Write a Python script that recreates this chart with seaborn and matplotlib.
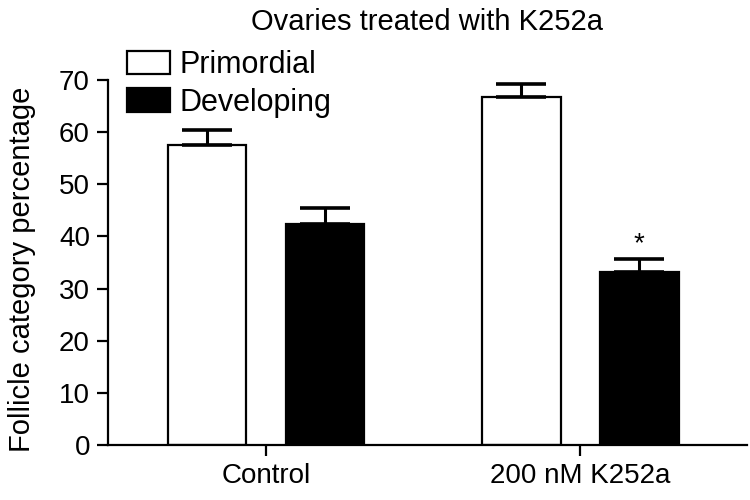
import pandas as pd
import numpy as np
import matplotlib
matplotlib.use("Agg")
import matplotlib.pyplot as plt
import seaborn as sns
from matplotlib.patches import Patch

# -----------------------------
# DATA
# -----------------------------
groups = ["Control", "200 nM K252a"]
categories = ["Primordial", "Developing"]
primordial = [57.5, 66.7]
developing = [42.4, 33.1]
primordial_sem = [3.0, 2.5]
developing_sem = [3.0, 2.5]

df = pd.DataFrame({
    "group": groups * 2,
    "category": [categories[0]] * 2 + [categories[1]] * 2,
    "value": primordial + developing,
    "sem": primordial_sem + developing_sem,
})

# -----------------------------
# PLOT
# -----------------------------
sns.set_style("ticks")
plt.rcParams['font.family'] = ['Liberation Sans', 'DejaVu Sans']
plt.rcParams['text.color'] = 'black'
plt.rcParams['axes.labelcolor'] = 'black'
plt.rcParams['xtick.color'] = 'black'
plt.rcParams['ytick.color'] = 'black'
plt.rcParams['axes.edgecolor'] = 'black'

fig = plt.figure(figsize=(7.5, 5), dpi=100)
ax = fig.add_axes([0.144, 0.11, 0.852, 0.73])

sns.barplot(
    data=df, x="group", y="value", hue="category",
    order=groups, hue_order=categories,
    palette={"Primordial": "white", "Developing": "black"},
    width=0.75, gap=0.333, edgecolor="black", linewidth=1.6,
    errorbar=None, legend=False, ax=ax
)

# error bars (upper only, like the original)
for bar_group, cat in zip(ax.containers, categories):
    sub = df[df["category"] == cat].set_index("group").loc[groups]
    xs = [b.get_x() + b.get_width() / 2 for b in bar_group]
    ax.errorbar(xs, sub["value"], yerr=[np.zeros(len(xs)), sub["sem"]],
                fmt="none", ecolor="black", elinewidth=2.2, capsize=18,
                capthick=2.6, zorder=1)

# significance star over treated developing bar
b = ax.containers[1][1]
ax.text(b.get_x() + b.get_width() / 2, developing[1] + developing_sem[1] + 3.0,
        "*", ha="center", va="center", fontsize=20)

ax.set_ylim(0, 70)
ax.set_xlim(-0.503, 1.53)
ax.set_yticks(range(0, 71, 10))
ax.tick_params(axis="both", labelsize=20, width=1.6, length=8,
               direction="out", pad=5)
ax.set_xlabel("")
ax.set_ylabel("Follicle category percentage", fontsize=21)
ax.yaxis.set_label_coords(-0.112, 0.48)
for s in ["left", "bottom"]:
    ax.spines[s].set_linewidth(1.6)
sns.despine(ax=ax)

fig.text(0.569, 0.956, "Ovaries treated with K252a", ha="center",
         va="center", fontsize=21)

handles = [Patch(facecolor="white", edgecolor="black", linewidth=1.6),
           Patch(facecolor="black", edgecolor="black", linewidth=1.6)]
fig.legend(handles, categories, loc="upper left",
           bbox_to_anchor=(0.169, 0.9), frameon=False, fontsize=22,
           handlelength=1.4, handleheight=0.82, handletextpad=0.33,
           labelspacing=0.26, borderpad=0, borderaxespad=0)

fig.savefig("out.png", dpi=100)
